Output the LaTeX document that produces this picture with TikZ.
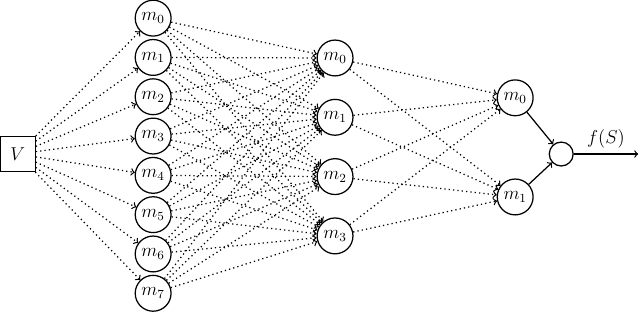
\documentclass[tikz,border=0pt]{standalone}
\usepackage{amsmath}
\usepackage{tikz}
\usetikzlibrary{positioning,arrows}

\tikzset{
    inputBox/.style={
        rectangle,
        draw,
        thick,
        minimum size=0.79cm,
        inner sep=0pt,
        font=\large
    },
    unitNode/.style={
        circle,
        draw,
        thick,
        minimum size=0.81cm,
        inner sep=0pt,
        font=\large
    },
    sumNode/.style={unitNode, minimum size=0.54cm},
    % Arrows
    dotArrow/.style={->, dotted, thick},
    solidArrow/.style={->, thick}
}

\begin{document}
\begin{tikzpicture}
    \useasboundingbox (0,0) rectangle (14.46,-7.12);

    \node[inputBox] (v) at (0.40,-3.48) {$V$};

    % first layer
    \foreach \i in {0,...,7}
        \node[unitNode] (a\i) at (3.46,{-0.41-0.888*\i}) {$m_{\i}$};
    % second layer
    \foreach \j in {0,...,3}
        \node[unitNode] (b\j) at (7.57,{-1.31-1.34*\j}) {$m_{\j}$};
    % third layer
    \node[unitNode] (c0) at (11.64,-2.21) {$m_0$};
    \node[unitNode] (c1) at (11.64,-4.45) {$m_1$};

    \node[sumNode] (out) at (12.68,-3.48) {};
    \coordinate (end) at (14.42,-3.48);

    \foreach \i in {0,...,7}
        \draw[dotArrow] (v) -- (a\i);
    \foreach \i in {0,...,7}
        \foreach \j in {0,...,3}
            \draw[dotArrow] (a\i) -- (b\j);
    \foreach \j in {0,...,3}
        \foreach \k in {0,1}
            \draw[dotArrow] (b\j) -- (c\k);

    \draw[solidArrow] (c0) -- (out);
    \draw[solidArrow] (c1) -- (out);
    \draw[solidArrow] (out) -- (end) node[midway, above, font=\large] {$f(S)$};
\end{tikzpicture}
\end{document}
